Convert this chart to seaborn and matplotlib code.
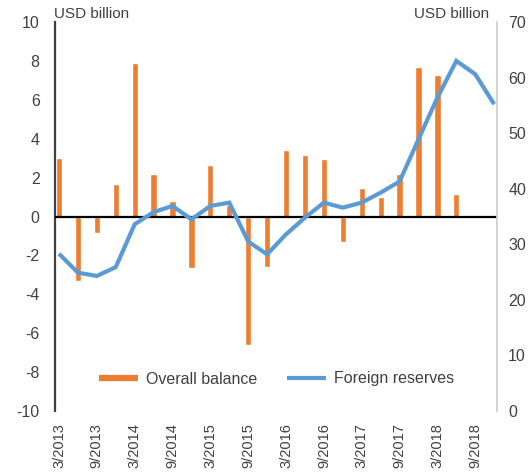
import numpy as np
import pandas as pd
import matplotlib
matplotlib.use("Agg")
import matplotlib.pyplot as plt
from matplotlib.lines import Line2D
import seaborn as sns

# Quarterly periods (end month / year)
quarters = [f"{m}/{y}" for y in range(2013, 2019) for m in (3, 6, 9, 12)]

# Overall balance of payments, USD billion (left axis); no data for the last two quarters
overall_balance = [3.0, -3.3, -0.85, 1.65, 7.9, 2.2, 0.8, -2.65, 2.65, 0.6,
                   -6.6, -2.6, 3.4, 3.15, 2.95, -1.3, 1.45, 1.0, 2.2, 7.7,
                   7.25, 1.15]

# Foreign reserves, USD billion (right axis)
foreign_reserves = [28.3, 24.9, 24.3, 25.9, 33.6, 35.8, 36.9, 34.5, 36.9, 37.5,
                    30.5, 28.2, 31.8, 34.8, 37.5, 36.6, 37.5, 39.3, 41.3, 48.9,
                    56.4, 63.0, 60.6, 55.2]

left_ticks = list(range(-10, 11, 2))
right_ticks = list(range(0, 71, 10))

ORANGE = "#ED7D31"
BLUE = "#5B9BD5"
TEXT = "#404040"

sns.set_theme(style="white")
plt.rcParams["font.family"] = ["Liberation Sans", "DejaVu Sans"]

fig = plt.figure(figsize=(5.31, 4.73), dpi=100)
ax = fig.add_axes([0.1036, 0.131, 0.8324, 0.8225])

bal_df = pd.DataFrame({"quarter": quarters[:len(overall_balance)],
                       "balance": overall_balance})
sns.barplot(data=bal_df, x="quarter", y="balance", order=quarters,
            color=ORANGE, saturation=1, width=0.33, errorbar=None, ax=ax)
ax.axhline(0, color="black", lw=1.6, zorder=3)

ax2 = ax.twinx()
res_df = pd.DataFrame({"pos": np.arange(len(foreign_reserves)),
                       "reserves": foreign_reserves})
sns.lineplot(data=res_df, x="pos", y="reserves", color=BLUE, lw=3.0, ax=ax2,
             solid_joinstyle="miter", solid_capstyle="butt")

ax.set_xlim(-0.21, 23.15)
ax2.set_xlim(-0.21, 23.15)
ax.set_ylim(-10, 10)
ax2.set_ylim(0, 70)

ax.set_yticks(left_ticks)
ax.set_yticklabels([str(v) for v in left_ticks])
ax2.set_yticks(right_ticks)
ax2.set_yticklabels([str(v) for v in right_ticks])

tick_pos = list(range(0, len(quarters), 2))
ax.set_xticks(tick_pos)
ax.set_xticklabels([quarters[i] for i in tick_pos], rotation=90)

ax.set_xlabel("")
ax.set_ylabel("")
ax2.set_xlabel("")
ax2.set_ylabel("")

ax.tick_params(axis="y", length=0, pad=11, labelsize=11.5, labelcolor=TEXT)
ax.tick_params(axis="x", length=0, pad=9, labelsize=10.5, labelcolor=TEXT)
ax2.tick_params(axis="y", length=0, pad=8, labelsize=11.5, labelcolor=TEXT)

for a in (ax, ax2):
    for s in ("top", "bottom"):
        a.spines[s].set_visible(False)
    a.spines["left"].set_visible(False)
    a.spines["right"].set_visible(False)
ax.spines["left"].set_visible(True)
ax.spines["left"].set_color("#404040")
ax.spines["left"].set_linewidth(1.6)
ax2.spines["right"].set_visible(True)
ax2.spines["right"].set_color("#d0d0d0")
ax2.spines["right"].set_linewidth(1.3)
ax.grid(False)
ax2.grid(False)

fig.text(54 / 531, 1 - 14 / 473, "USD billion", ha="left", va="center",
         fontsize=11, color=TEXT)
fig.text(489 / 531, 1 - 14 / 473, "USD billion", ha="right", va="center",
         fontsize=11, color=TEXT)

handles = [Line2D([0], [0], color=ORANGE, lw=4.5, solid_capstyle="butt"),
           Line2D([0], [0], color=BLUE, lw=3.0, solid_capstyle="butt")]
ax2.legend(handles, ["Overall balance", "Foreign reserves"], ncol=2,
           loc="center", bbox_to_anchor=(276.5 / 531, 1 - 379 / 473),
           bbox_transform=fig.transFigure, frameon=False, fontsize=11.5,
           handlelength=2.4, handletextpad=0.5, columnspacing=1.9,
           labelcolor=TEXT)

fig.savefig("out.png", dpi=100)
